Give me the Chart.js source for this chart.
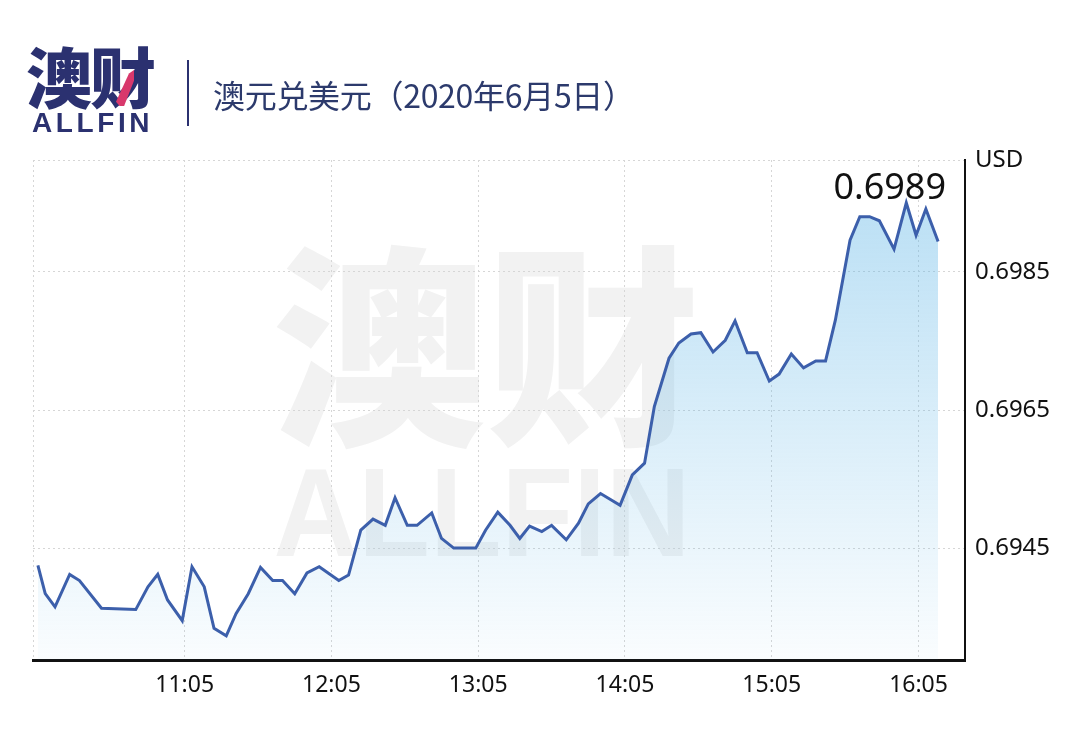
<!DOCTYPE html>
<html>
<head>
<meta charset="utf-8">
<script src="https://cdn.jsdelivr.net/npm/chart.js@4.4.1/dist/chart.umd.min.js"></script>
<style>
  html, body { margin: 0; padding: 0; background: #fff; }
  body { width: 1067px; height: 733px; position: relative; overflow: hidden;
         font-family: "Noto Sans", "Noto Sans CJK SC", sans-serif; }
  #chart { position: absolute; left: 0; top: 0; }
  .logo-cn { position: absolute; left: 26px; top: 29px; font-family: "Noto Sans CJK SC"; font-weight: 900;
             font-size: 66px; line-height: 90px; color: #2b3170; letter-spacing: -2px; }
  .logo-accent { position: absolute; left: 116px; top: 70px; width: 18px; height: 36px; background: #d8386c;
                 clip-path: polygon(0 88%, 72% 10%, 100% 0, 100% 30%, 45% 100%, 20% 100%); }
  .logo-en { position: absolute; left: 32px; top: 107px; font-family: "Liberation Sans", Arial, sans-serif;
             font-weight: bold; font-size: 28px; line-height: 32px; color: #2b3170; letter-spacing: 3.6px; }
  .divider { position: absolute; left: 187px; top: 60px; width: 2px; height: 66px; background: #2b3170; }
  .title { position: absolute; left: 213px; top: 72px; font-family: "Noto Sans CJK SC"; font-size: 32px;
           line-height: 44px; color: #2c3a6c; letter-spacing: -0.3px; }
</style>
</head>
<body>
<canvas id="chart" width="1067" height="733"></canvas>
<div class="logo-cn">澳财</div>
<div class="logo-accent"></div>
<div class="logo-en">ALLFIN</div>
<div class="divider"></div>
<div class="title">澳元兑美元（2020年6月5日）</div>
<script>
// AUD/USD, 5 June 2020
const times = [
  "10:05", "10:08", "10:12", "10:18", "10:22", "10:31", "10:45", "10:50", "10:54", "10:58",
  "11:04", "11:08", "11:13", "11:17", "11:22", "11:26", "11:31", "11:36", "11:41", "11:45",
  "11:50", "11:55", "12:00", "12:08", "12:12", "12:17", "12:22", "12:27", "12:31", "12:36",
  "12:40", "12:46", "12:50", "12:55", "13:04", "13:08", "13:13", "13:18", "13:22", "13:26",
  "13:31", "13:35", "13:41", "13:46", "13:50", "13:55", "14:03", "14:08", "14:13", "14:17",
  "14:23", "14:27", "14:32", "14:36", "14:41", "14:46", "14:50", "14:55", "14:59", "15:04",
  "15:08", "15:13", "15:18", "15:23", "15:27", "15:31", "15:37", "15:41", "15:45", "15:49",
  "15:55", "16:00", "16:04", "16:08", "16:13"
];
const rates = [
  0.69425, 0.69384, 0.69365, 0.69412, 0.69403, 0.69363, 0.69361, 0.69394, 0.69412, 0.69375,
  0.69345, 0.69423, 0.69394, 0.69334, 0.69323, 0.69355, 0.69384, 0.69422, 0.69403, 0.69403,
  0.69384, 0.69414, 0.69423, 0.69403, 0.69411, 0.69476, 0.69492, 0.69483, 0.69523, 0.69483,
  0.69483, 0.69501, 0.69464, 0.69450, 0.69450, 0.69476, 0.69502, 0.69483, 0.69464, 0.69482,
  0.69474, 0.69483, 0.69462, 0.69486, 0.69514, 0.69529, 0.69512, 0.69556, 0.69573, 0.69655,
  0.69725, 0.69747, 0.69760, 0.69762, 0.69734, 0.69751, 0.69779, 0.69733, 0.69733, 0.69692,
  0.69702, 0.69731, 0.69711, 0.69721, 0.69721, 0.69780, 0.69896, 0.69930, 0.69930, 0.69924,
  0.69883, 0.69950, 0.69903, 0.69941, 0.69894
];
const xTickTimes = ["11:05", "12:05", "13:05", "14:05", "15:05", "16:05"];
const xRange = ["10:03", "16:24"];
const yTicks = [0.6945, 0.6965, 0.6985];
const yRange = [0.69288, 0.70012];
const unitLabel = "USD";

function toMin(t) {
  const p = t.split(":");
  return +p[0] * 60 + +p[1];
}
function toTime(m) {
  const h = Math.floor(m / 60), mm = Math.round(m % 60);
  return h + ":" + (mm < 10 ? "0" : "") + mm;
}

const FONT = '"Noto Sans", "Noto Sans CJK SC", sans-serif';
const GRID = "#d6d6d6";

// big grey watermark behind the plot
const watermark = {
  id: "watermark",
  beforeDraw(chart) {
    const ctx = chart.ctx;
    ctx.save();
    ctx.fillStyle = "#f2f2f2";
    ctx.textAlign = "center";
    ctx.textBaseline = "alphabetic";
    ctx.font = '900 214px "Noto Sans CJK SC"';
    ctx.fillText("澳财", 486, 428);
    ctx.font = 'bold 126px "Liberation Sans", Arial, sans-serif';
    const w = ctx.measureText("ALLFIN").width;
    ctx.translate(482, 556);
    ctx.scale(417 / w, 1);
    ctx.fillText("ALLFIN", 0, 0);
    ctx.restore();
  },
};

// dotted left edge + last value label
const extras = {
  id: "extras",
  beforeDatasetsDraw(chart) {
    const ctx = chart.ctx, a = chart.chartArea;
    ctx.save();
    ctx.strokeStyle = GRID;
    ctx.lineWidth = 1;
    ctx.setLineDash([2, 3]);
    ctx.beginPath();
    ctx.moveTo(a.left + 0.5, a.top);
    ctx.lineTo(a.left + 0.5, a.bottom);
    ctx.stroke();
    ctx.restore();
  },
  afterDatasetsDraw(chart) {
    const ctx = chart.ctx, a = chart.chartArea;
    const last = rates[rates.length - 1];
    ctx.save();
    ctx.fillStyle = "#111";
    ctx.font = "36px " + FONT;
    ctx.textAlign = "right";
    ctx.textBaseline = "alphabetic";
    ctx.fillText(last.toFixed(4), a.right - 19, 199);
    ctx.restore();
  },
};

new Chart(document.getElementById("chart"), {
  type: "line",
  data: {
    datasets: [
      {
        data: times.map((t, i) => ({ x: toMin(t), y: rates[i] })),
        borderColor: "#3c5fab",
        borderWidth: 3,
        pointRadius: 0,
        tension: 0,
        fill: "start",
        backgroundColor: function (context) {
          const a = context.chart.chartArea;
          if (!a) return "rgba(92,180,230,0.2)";
          const g = context.chart.ctx.createLinearGradient(0, 200, 0, a.bottom);
          g.addColorStop(0, "rgba(92,180,230,0.42)");
          g.addColorStop(1, "rgba(92,180,230,0.03)");
          return g;
        },
      },
    ],
  },
  options: {
    responsive: false,
    animation: false,
    layout: {
      padding: { left: 33, top: 160, right: 0, bottom: 0 },
    },
    plugins: {
      legend: { display: false },
      tooltip: { enabled: false },
    },
    scales: {
      x: {
        type: "linear",
        min: toMin(xRange[0]),
        max: toMin(xRange[1]),
        afterBuildTicks: (scale) => {
          scale.ticks = xTickTimes.map((t) => ({ value: toMin(t) }));
        },
        afterFit: (scale) => {
          scale.height = 73;
        },
        ticks: {
          color: "#111",
          font: { size: 23, family: FONT },
          padding: 12,
          maxRotation: 0,
          callback: (v) => toTime(v),
        },
        grid: {
          color: GRID,
          lineWidth: 1,
          drawTicks: false,
        },
        border: { display: true, color: "#111", width: 3, dash: [2, 3] },
      },
      y: {
        position: "right",
        min: yRange[0],
        max: yRange[1],
        afterBuildTicks: (scale) => {
          scale.ticks = yTicks.map((v) => ({ value: v })).concat([{ value: yRange[1] }]);
        },
        afterFit: (scale) => {
          scale.width = 102;
        },
        ticks: {
          color: "#111",
          font: { size: 24, family: FONT },
          padding: 10,
          callback: (v) => (v === yRange[1] ? unitLabel : v.toFixed(4)),
        },
        grid: {
          color: GRID,
          lineWidth: 1,
          drawTicks: false,
        },
        border: { display: true, color: "#111", width: 2, dash: [2, 3] },
      },
    },
  },
  plugins: [watermark, extras],
});
</script>
</body>
</html>
